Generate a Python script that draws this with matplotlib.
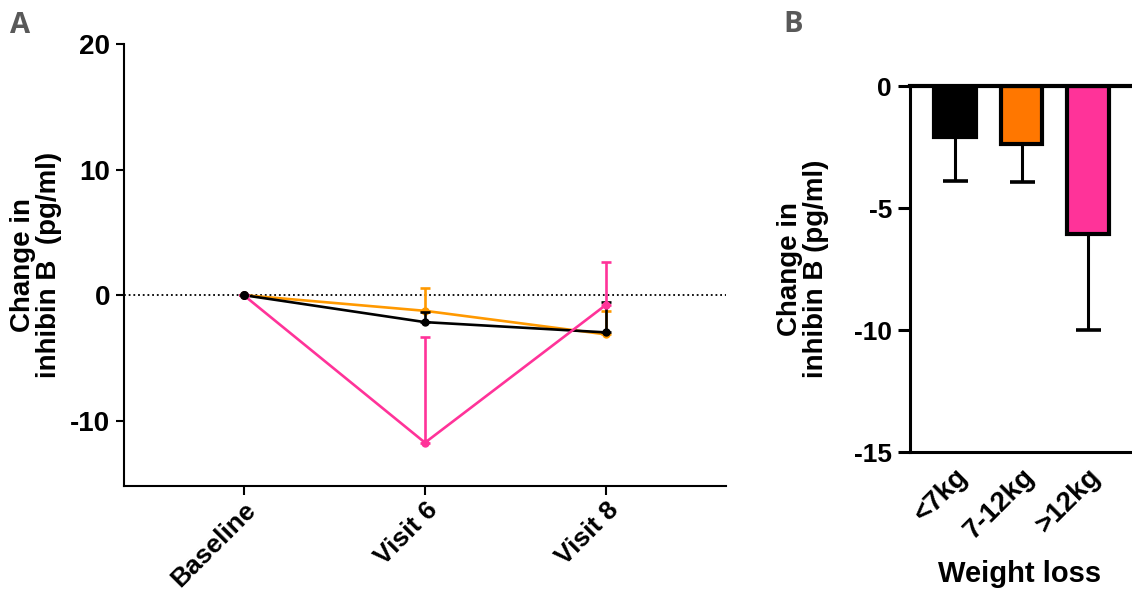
import numpy as np
import matplotlib
matplotlib.use("Agg")
import matplotlib.pyplot as plt

plt.rcParams['font.family'] = ['Liberation Sans', 'DejaVu Sans']
plt.rcParams['font.weight'] = 'bold'
plt.rcParams['axes.unicode_minus'] = False

# panel A: change in inhibin B over visits, by weight-loss group
visits = ['Baseline', 'Visit 6', 'Visit 8']
lt7_mean = [0.0, -2.15, -2.97]
lt7_err = [0.0, 0.8, 2.44]
mid_mean = [0.0, -1.25, -3.13]
mid_err = [0.0, 1.85, 1.86]
gt12_mean = [0.0, -11.75, -0.75]
gt12_err = [0.0, 8.45, 3.35]

# panel B: change at visit 8, by weight-loss group
groups = ['<7kg', '7-12kg', '>12kg']
bar_vals = [-2.1, -2.38, -6.05]
bar_err = [1.78, 1.55, 3.95]

c_black = '#000000'
c_orange_line = '#FF9900'
c_orange_bar = '#FF7700'
c_pink = '#FF3399'

W, H = 1132, 594
fig = plt.figure(figsize=(W / 100, H / 100), dpi=100)

# ---- panel A ----
axA = fig.add_axes([124 / W, 1 - 486 / H, (726 - 124) / W, (486 - 44) / H])
x = np.arange(len(visits))
axA.axhline(0, color='black', lw=1.3, linestyle=(0, (1, 1.6)), zorder=1)
series = [(mid_mean, mid_err, c_orange_line, 2),
          (lt7_mean, lt7_err, c_black, 3),
          (gt12_mean, gt12_err, c_pink, 4)]
for m, e, c, z in series:
    axA.errorbar(x, m, yerr=[np.zeros(len(e)), e], color=c, lw=1.9,
                 marker='o', ms=5, capsize=3.5, capthick=1.9, elinewidth=1.9,
                 zorder=z)
# shared baseline point drawn last
axA.plot(x[:1], lt7_mean[:1], 'o', color=c_black, ms=5.5, zorder=5)
axA.set_xlim(-0.66, 2.66)
axA.set_ylim(-15.2, 20)
axA.set_yticks([-10, 0, 10, 20])
axA.set_xticks(x)
axA.set_xticklabels(visits, rotation=45, ha='right', rotation_mode='anchor',
                    fontsize=19, fontweight='bold')
axA.tick_params(axis='y', labelsize=20, length=6, width=1.5, pad=4)
axA.tick_params(axis='x', length=6.5, width=1.5, pad=2)
for s in ['top', 'right']:
    axA.spines[s].set_visible(False)
for s in ['left', 'bottom']:
    axA.spines[s].set_linewidth(1.5)
axA.set_ylabel('Change in\ninhibin B  (pg/ml)', fontsize=20, fontweight='bold',
               linespacing=1.0, labelpad=6)

# ---- panel B ----
axB = fig.add_axes([910 / W, 1 - 452 / H, (1130 - 910) / W, (452 - 86) / H])
xb = np.arange(len(groups))
axB.bar(xb, bar_vals, width=0.62, color=[c_black, c_orange_bar, c_pink],
        edgecolor='black', linewidth=3, zorder=2)
axB.errorbar(xb, bar_vals, yerr=[bar_err, np.zeros(len(bar_err))], fmt='none',
             ecolor='black', elinewidth=2.2, capsize=9, capthick=2.6, zorder=1)
axB.set_xlim(-0.677, 2.63)
axB.set_ylim(-15, 0)
axB.set_yticks([0, -5, -10, -15])
axB.set_xticks(xb)
axB.set_xticklabels(groups, rotation=45, ha='right', rotation_mode='anchor',
                    fontsize=20, fontweight='bold')
axB.tick_params(axis='y', labelsize=19, length=9, width=2.2, pad=4)
axB.tick_params(axis='x', length=0, pad=8)
axB.spines['right'].set_visible(False)
axB.spines['top'].set_linewidth(3)
axB.spines['top'].set_zorder(3)
axB.spines['left'].set_linewidth(2.2)
axB.spines['bottom'].set_linewidth(2.2)
axB.set_ylabel('Change in\ninhibin B (pg/ml)', fontsize=20, fontweight='bold',
               linespacing=1.0, labelpad=18)
axB.set_xlabel('Weight loss', fontsize=21, fontweight='bold', labelpad=12)

# panel letters
fig.text(10 / W, 1 - 33 / H, 'A', fontsize=21, fontweight='bold', color='#595959',
         family=['Open Sans', 'DejaVu Sans'])
fig.text(783 / W, 1 - 32 / H, 'B', fontsize=21, fontweight='bold', color='#595959',
         family=['Open Sans', 'DejaVu Sans'])

fig.savefig('out.png', dpi=100)
